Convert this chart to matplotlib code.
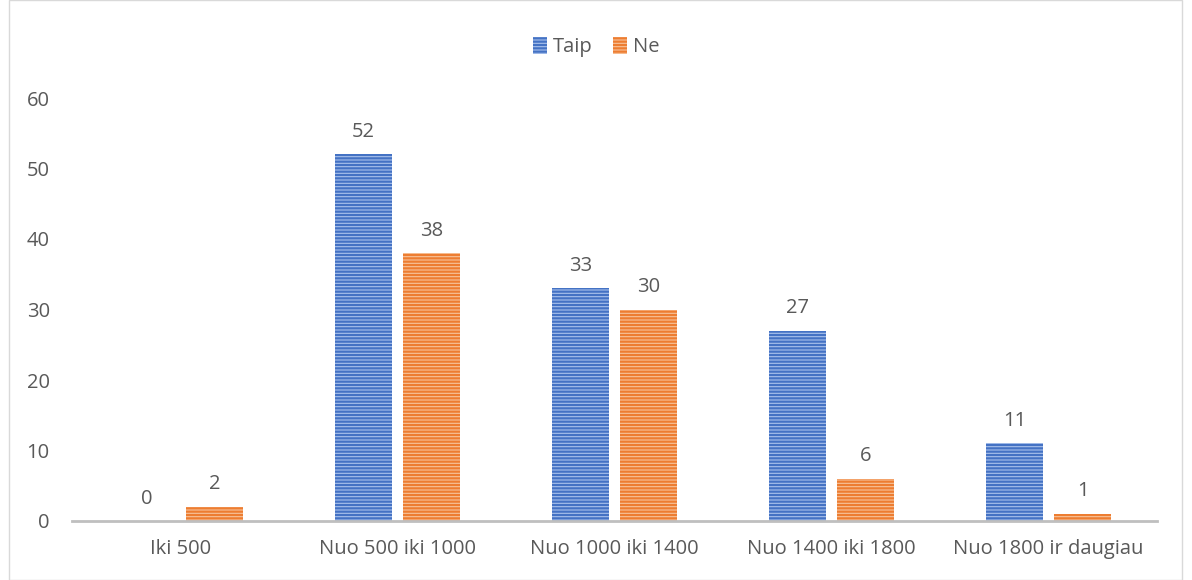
import numpy as np
import matplotlib.pyplot as plt
import matplotlib.patches as mpatches

plt.rcParams['font.family'] = ['Open Sans', 'DejaVu Sans']
plt.rcParams['hatch.linewidth'] = 1.6

categories = ["Iki 500", "Nuo 500 iki 1000", "Nuo 1000 iki 1400",
              "Nuo 1400 iki 1800", "Nuo 1800 ir daugiau"]
taip = [0, 52, 33, 27, 11]
ne = [2, 38, 30, 6, 1]

txt = "#595959"
fig = plt.figure(figsize=(11.92, 5.8), dpi=100)
ax = fig.add_axes([72 / 1192, 59 / 580, 1085 / 1192, 423 / 580])

x = np.arange(len(categories))
w = 0.263
off = 0.157

b1 = ax.bar(x - off, taip, w, color="#A9C1EC", hatch="-----", edgecolor="#4472C4",
            linewidth=0, label="Taip")
b2 = ax.bar(x + off, ne, w, color="#F8C39A", hatch="-----", edgecolor="#ED7D31",
            linewidth=0, label="Ne")

for bars, vals in ((b1, taip), (b2, ne)):
    for p, v in zip(bars, vals):
        ax.annotate(str(v), (p.get_x() + p.get_width() / 2, v), xytext=(0, 9),
                    textcoords="offset points", ha="center", va="bottom",
                    fontsize=14.5, color=txt)

ax.set_xlim(-0.5, 4.5)
ax.set_ylim(0, 60)
ax.set_yticks(range(0, 61, 10))
ax.set_xticks(x)
ax.set_xticklabels(categories)
ax.tick_params(axis="both", length=0, labelsize=14.5, labelcolor=txt)
ax.tick_params(axis="x", pad=13)
ax.tick_params(axis="y", pad=16)
for s in ("top", "right", "left"):
    ax.spines[s].set_visible(False)
ax.spines["bottom"].set_color("#BFBFBF")
ax.spines["bottom"].set_linewidth(2)

ax.legend(loc="center", bbox_to_anchor=(0.5, 1 - 47 / 580), bbox_transform=fig.transFigure,
          ncol=2, frameon=False, fontsize=14.5, labelcolor=txt, handlelength=0.7,
          handleheight=0.9, handletextpad=0.3, columnspacing=1.0)

fig.patches.append(mpatches.Rectangle((9 / 1192, 0), 1173 / 1192, 1, transform=fig.transFigure,
                                      fill=False, edgecolor="#D9D9D9", linewidth=1))

fig.savefig("out.png", dpi=100)
